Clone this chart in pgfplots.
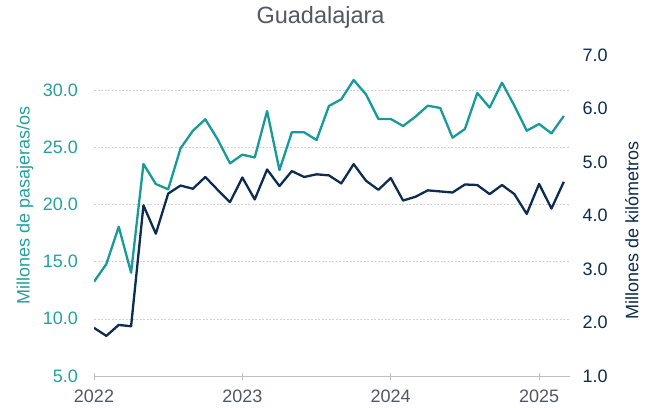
\documentclass[border=0pt]{standalone}
\usepackage{fontspec}
\setmainfont{Liberation Sans}
\usepackage{pgfplots}
\usepackage{pgfplotstable}
\pgfplotsset{compat=1.18}
\definecolor{teal1}{RGB}{24,154,152}
\definecolor{tealtxt}{RGB}{38,160,158}
\definecolor{navy1}{RGB}{12,45,80}
\definecolor{gridc}{RGB}{210,210,210}
\definecolor{axc}{RGB}{191,191,191}
\definecolor{txtg}{RGB}{80,88,99}

\pgfplotstableread{
i pas km
0 13.24 1.90
1 14.79 1.75
2 18.05 1.955
3 14.03 1.93
4 23.53 4.19
5 21.78 3.66
6 21.32 4.41
7 24.90 4.56
8 26.44 4.50
9 27.44 4.72
10 25.69 4.48
11 23.59 4.25
12 24.35 4.71
13 24.10 4.30
14 28.16 4.86
15 23.00 4.55
16 26.30 4.83
17 26.30 4.72
18 25.63 4.77
19 28.60 4.75
20 29.19 4.60
21 30.87 4.96
22 29.62 4.65
23 27.47 4.48
24 27.47 4.70
25 26.85 4.28
26 27.67 4.35
27 28.63 4.47
28 28.43 4.45
29 25.83 4.43
30 26.59 4.58
31 29.74 4.57
32 28.46 4.40
33 30.64 4.57
34 28.63 4.40
35 26.44 4.03
36 27.03 4.59
37 26.21 4.13
38 27.73 4.63
}\datatab

\begin{document}
\begin{tikzpicture}
\useasboundingbox (0,0) rectangle (650pt,407pt);
\begin{axis}[
  at={(94pt,31pt)}, anchor=south west,
  scale only axis, width=476pt, height=321pt,
  xmin=0, xmax=38.5, ymin=5, ymax=33.06,
  axis x line*=bottom, axis y line*=left,
  x axis line style={draw=axc, line width=0.9pt, -},
  y axis line style={draw=none},
  xtick={0,12,24,36}, xticklabels={2022,2023,2024,2025},
  x tick style={draw=axc, line width=0.9pt},
  major tick length=7pt, tick align=center,
  xticklabel style={font=\fontsize{18}{20}\selectfont, text=txtg, yshift=-6.5pt},
  ytick={5,10,...,30},
  y tick style={draw=none},
  ymajorgrids, grid style={gridc, dash pattern=on 2pt off 1.5pt, line width=0.6pt},
  yticklabel style={font=\fontsize{18}{20}\selectfont, text=tealtxt, xshift=-9pt},
  /pgf/number format/assume math mode=true,
  yticklabel={\pgfmathprintnumber[fixed,fixed zerofill,precision=1]{\tick}},
  ylabel={Millones de pasajeras/os},
  ylabel style={font=\fontsize{18}{20}\selectfont, text=tealtxt, at={(axis description cs:-0.145,0.53)}, anchor=center, rotate=0},
  title={Guadalajara},
  title style={font=\fontsize{23.5}{26}\selectfont, text=txtg, at={(axis description cs:0.476,1.099)}, anchor=center},
]
\addplot[teal1, line width=2.3pt, line join=round] table[x=i, y=pas] {\datatab};
\end{axis}
\begin{axis}[
  at={(94pt,31pt)}, anchor=south west,
  scale only axis, width=476pt, height=321pt,
  xmin=0, xmax=38.5, ymin=1, ymax=7,
  axis x line=none, axis y line*=right,
  y axis line style={draw=none},
  ytick={1,2,...,7},
  y tick style={draw=none},
  yticklabel style={font=\fontsize{18}{20}\selectfont, text=navy1, xshift=9pt},
  /pgf/number format/assume math mode=true,
  yticklabel={\pgfmathprintnumber[fixed,fixed zerofill,precision=1]{\tick}},
  ylabel={Millones de kilómetros},
  ylabel style={font=\fontsize{18}{20}\selectfont, text=navy1, at={(axis description cs:1.130,0.452)}, anchor=center, rotate=0},
]
\addplot[navy1, line width=2.3pt, line join=round] table[x=i, y=km] {\datatab};
\end{axis}
\end{tikzpicture}
\end{document}
